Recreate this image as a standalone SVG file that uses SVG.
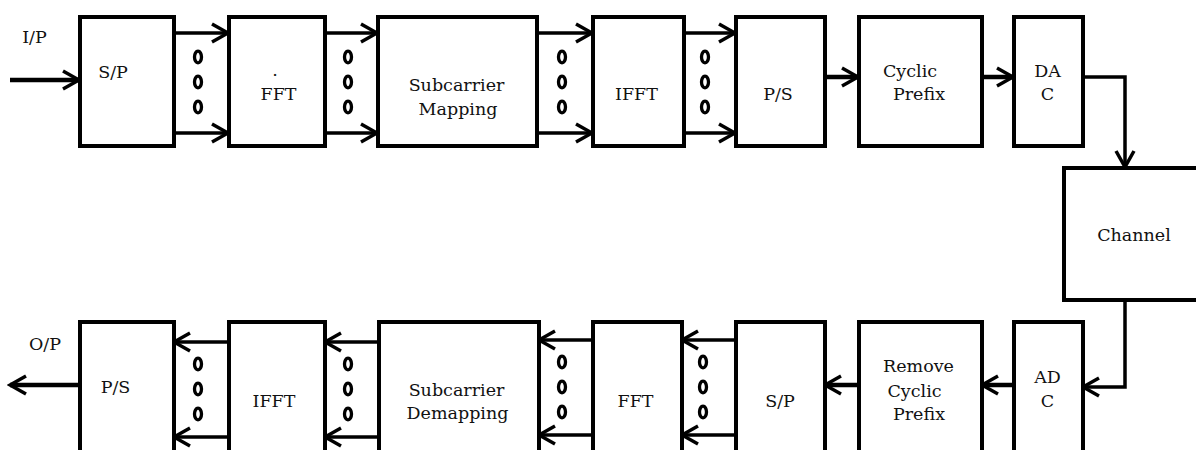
<svg xmlns="http://www.w3.org/2000/svg" width="1196" height="450" viewBox="0 0 1196 450">
<defs>
<style>
.box{fill:#fff;stroke:#000;stroke-width:4}
.ln{fill:none;stroke:#000;stroke-width:3.5;marker-end:url(#chev)}
.thk{fill:none;stroke:#000;stroke-width:4.5;marker-end:url(#chev)}
.dot{fill:none;stroke:#000;stroke-width:3.3}
text{font-family:"DejaVu Serif","Liberation Serif",serif;font-size:17.5px;fill:#111;text-anchor:middle}
</style>
<marker id="chev" viewBox="0 0 22 22" refX="19" refY="11" markerWidth="22" markerHeight="22" markerUnits="userSpaceOnUse" orient="auto">
<path d="M3,2 L19,11 L3,20" fill="none" stroke="#000" stroke-width="3.5"/>
</marker>
<g id="dots3">
<ellipse class="dot" cx="0" cy="0" rx="3.5" ry="5.8"/>
<ellipse class="dot" cx="0" cy="25" rx="3.5" ry="5.8"/>
<ellipse class="dot" cx="0" cy="50" rx="3.5" ry="5.8"/>
</g>
</defs>

<g id="connectors">
<path class="thk" d="M10,80 L79,80"/>
<path class="ln" d="M174,33 L228,33"/><path class="ln" d="M174,133 L228,133"/>
<path class="ln" d="M325,33 L377,33"/><path class="ln" d="M325,133 L377,133"/>
<path class="ln" d="M537,33 L592,33"/><path class="ln" d="M537,133 L592,133"/>
<path class="ln" d="M684,33 L735,33"/><path class="ln" d="M684,133 L735,133"/>
<path class="thk" d="M825,77 L858,77"/>
<path class="thk" d="M982,77 L1013,77"/>
<path class="ln" d="M1083,77 L1125,77 L1125,167"/>
<path class="ln" d="M1125,300 L1125,387 L1083,387"/>
<path class="thk" d="M1013,385 L982,385"/>
<path class="thk" d="M858,385 L825,385"/>
<path class="ln" d="M735,340 L682,340"/><path class="ln" d="M735,435 L682,435"/>
<path class="ln" d="M592,340 L539,340"/><path class="ln" d="M592,435 L539,435"/>
<path class="ln" d="M378,342 L325,342"/><path class="ln" d="M378,437 L325,437"/>
<path class="ln" d="M228,342 L174,342"/><path class="ln" d="M228,437 L174,437"/>
<path class="thk" d="M80,385 L10,385"/>
<use href="#dots3" x="198" y="57"/><use href="#dots3" x="348" y="57"/>
<use href="#dots3" x="562" y="57"/><use href="#dots3" x="705" y="57"/>
<use href="#dots3" x="198" y="364"/><use href="#dots3" x="348" y="364"/>
<use href="#dots3" x="562" y="362"/><use href="#dots3" x="703" y="362"/>
</g>

<g id="labels-io">
<text x="34.5" y="43">I/P</text>
<text x="45" y="350">O/P</text>
</g>

<g id="tx-sp"><rect class="box" x="80" y="17" width="94" height="129"/><text x="113" y="78">S/P</text></g>
<g id="tx-fft"><rect class="box" x="229" y="17" width="96" height="129"/><text x="275" y="76">.</text><text x="278.5" y="100">FFT</text></g>
<g id="tx-map"><rect class="box" x="378" y="17" width="159" height="129"/><text x="456.5" y="91">Subcarrier</text><text x="458" y="115">Mapping</text></g>
<g id="tx-ifft"><rect class="box" x="593" y="17" width="91" height="129"/><text x="636.5" y="100">IFFT</text></g>
<g id="tx-ps"><rect class="box" x="736" y="17" width="89" height="129"/><text x="778" y="100">P/S</text></g>
<g id="tx-cp"><rect class="box" x="859" y="17" width="123" height="129"/><text x="910" y="77">Cyclic</text><text x="919" y="100">Prefix</text></g>
<g id="tx-dac"><rect class="box" x="1014" y="17" width="69" height="129"/><text x="1047.5" y="77">DA</text><text x="1047.5" y="100">C</text></g>

<g id="channel"><rect class="box" x="1064" y="168" width="140" height="132"/><text x="1134" y="241">Channel</text></g>

<g id="rx-adc"><rect class="box" x="1014" y="322" width="69" height="140"/><text x="1047.5" y="383">AD</text><text x="1047.5" y="407">C</text></g>
<g id="rx-rcp"><rect class="box" x="859" y="322" width="123" height="140"/><text x="918.5" y="372">Remove</text><text x="914.5" y="397">Cyclic</text><text x="919" y="420">Prefix</text></g>
<g id="rx-sp"><rect class="box" x="736" y="322" width="89" height="140"/><text x="780" y="407">S/P</text></g>
<g id="rx-fft"><rect class="box" x="593" y="322" width="89" height="140"/><text x="635.5" y="407">FFT</text></g>
<g id="rx-demap"><rect class="box" x="379" y="322" width="160" height="140"/><text x="456.5" y="396">Subcarrier</text><text x="457.5" y="419">Demapping</text></g>
<g id="rx-ifft"><rect class="box" x="229" y="322" width="96" height="140"/><text x="274" y="407">IFFT</text></g>
<g id="rx-ps"><rect class="box" x="80" y="322" width="94" height="140"/><text x="115.5" y="393">P/S</text></g>
</svg>
